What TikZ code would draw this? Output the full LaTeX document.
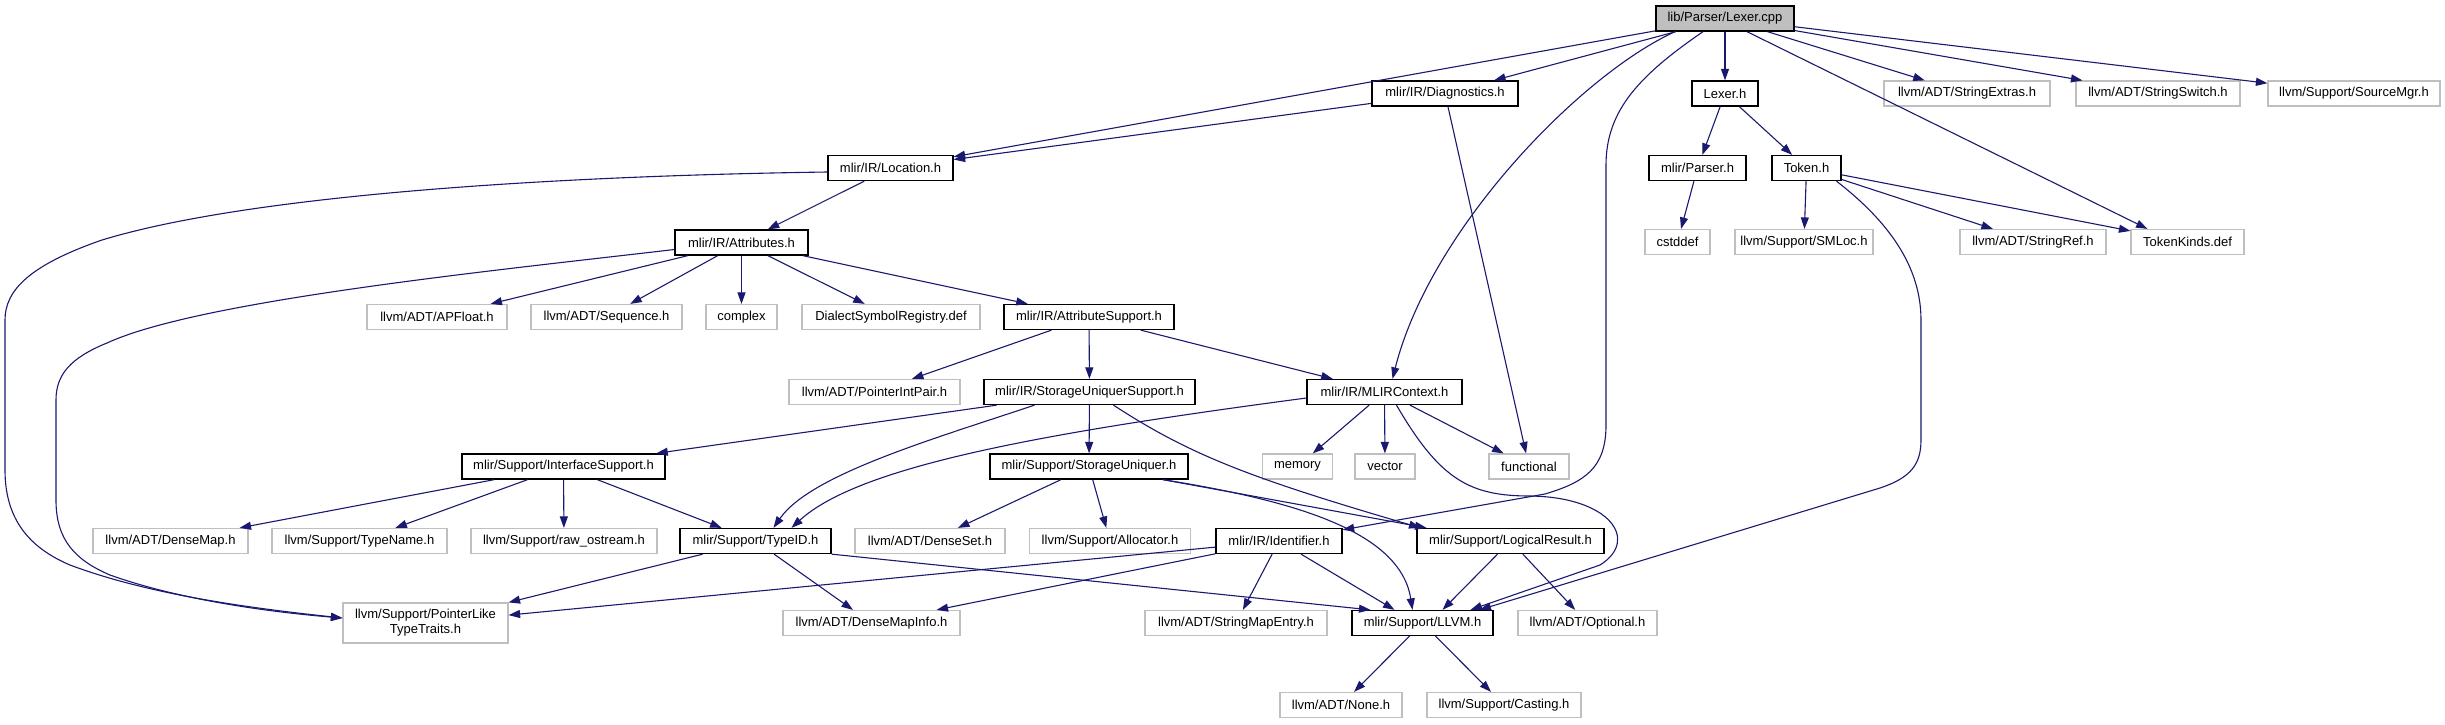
\documentclass[tikz,border=0pt]{standalone}
\usepackage{fontspec}
\setmainfont{Liberation Sans}
\usetikzlibrary{arrows.meta}
\definecolor{edgeblue}{HTML}{191970}
\definecolor{extgray}{HTML}{BFBFBF}
\begin{document}
\begin{tikzpicture}[x=1pt,y=-1pt,
  box/.style={rectangle,inner sep=0pt,minimum height=25pt,font=\fontsize{13}{15}\selectfont,align=center},
  doc/.style={box,draw=black,line width=1.3pt,fill=white},
  ext/.style={box,draw=extgray,line width=1.2pt,fill=white},
  root/.style={box,draw=black,line width=1.3pt,fill=extgray},
  e/.style={draw=edgeblue,line width=1.1pt,-{Triangle[length=11.5pt,width=8pt]}}]
\useasboundingbox (0,0) rectangle (2445,724);
% row 0
\node[root,minimum width=138pt] (cpp) at (1725,18.5) {lib/Parser/Lexer.cpp};
% row 1
\node[doc,minimum width=146pt] (diag) at (1445,93.5) {mlir/IR/Diagnostics.h};
\node[doc,minimum width=66pt] (lexerh) at (1725,93.5) {Lexer.h};
\node[ext,minimum width=166pt] (strext) at (1967,93.5) {llvm/ADT/StringExtras.h};
\node[ext,minimum width=164pt] (strsw) at (2158,93.5) {llvm/ADT/StringSwitch.h};
\node[ext,minimum width=172pt] (srcmgr) at (2354,93.5) {llvm/Support/SourceMgr.h};
% row 2
\node[doc,minimum width=125pt] (loc) at (890.5,168) {mlir/IR/Location.h};
\node[doc,minimum width=97pt] (parser) at (1697.5,168) {mlir/Parser.h};
\node[doc,minimum width=69pt] (token) at (1806.5,168) {Token.h};
% row 3
\node[doc,minimum width=133pt] (attrs) at (741.5,242.5) {mlir/IR/Attributes.h};
\node[ext,minimum width=65pt] (cstddef) at (1677.5,242) {cstddef};
\node[ext,minimum width=138pt] (smloc) at (1804,242) {llvm/Support/SMLoc.h};
\node[ext,minimum width=146pt] (strref) at (2033,242) {llvm/ADT/StringRef.h};
\node[ext,minimum width=113pt] (tokkinds) at (2187.5,242) {TokenKinds.def};
% row 4
\node[ext,minimum width=140pt] (apfloat) at (437,317) {llvm/ADT/APFloat.h};
\node[ext,minimum width=151pt] (seq) at (606.5,317) {llvm/ADT/Sequence.h};
\node[ext,minimum width=71pt] (complex) at (741.5,317) {complex};
\node[ext,minimum width=178pt] (dialreg) at (891,317) {DialectSymbolRegistry.def};
\node[doc,minimum width=170pt] (attrsup) at (1089,317) {mlir/IR/AttributeSupport.h};
% row 5
\node[ext,minimum width=171pt] (pip) at (874.5,392) {llvm/ADT/PointerIntPair.h};
\node[doc,minimum width=211pt] (sus) at (1089.5,392) {mlir/IR/StorageUniquerSupport.h};
\node[doc,minimum width=155pt] (ctx) at (1384.5,392) {mlir/IR/MLIRContext.h};
% row 6
\node[doc,minimum width=203pt] (iface) at (563.5,466.5) {mlir/Support/InterfaceSupport.h};
\node[doc,minimum width=198pt] (su) at (1089,466.5) {mlir/Support/StorageUniquer.h};
\node[ext,minimum width=70pt] (memory) at (1297.5,466.5) {memory};
\node[ext,minimum width=60pt] (vector) at (1385,466.5) {vector};
\node[ext,minimum width=80pt] (functional) at (1529,466.5) {functional};
% row 7
\node[ext,minimum width=155pt] (densemap) at (170.5,541) {llvm/ADT/DenseMap.h};
\node[ext,minimum width=175pt] (typename) at (359.5,541) {llvm/Support/TypeName.h};
\node[ext,minimum width=186pt] (rawos) at (564,541) {llvm/Support/raw\_ostream.h};
\node[doc,minimum width=151pt] (typeid) at (755.5,541) {mlir/Support/TypeID.h};
\node[ext,minimum width=150pt] (denseset) at (930,541) {llvm/ADT/DenseSet.h};
\node[ext,minimum width=161pt] (alloc) at (1110,541) {llvm/Support/Allocator.h};
\node[doc,minimum width=126pt] (ident) at (1279,541) {mlir/IR/Identifier.h};
\node[doc,minimum width=187pt] (logres) at (1510.5,541) {mlir/Support/LogicalResult.h};
% row 8
\node[ext,minimum width=165pt,minimum height=40pt] (traits) at (425.5,623) {llvm/Support/PointerLike\\TypeTraits.h};
\node[ext,minimum width=177pt] (dmi) at (871.5,623) {llvm/ADT/DenseMapInfo.h};
\node[ext,minimum width=182pt] (sme) at (1236,623) {llvm/ADT/StringMapEntry.h};
\node[doc,minimum width=141pt] (llvmh) at (1422.5,623) {mlir/Support/LLVM.h};
\node[ext,minimum width=139pt] (optional) at (1587.5,623) {llvm/ADT/Optional.h};
% row 9
\node[ext,minimum width=122pt] (none) at (1341,705) {llvm/ADT/None.h};
\node[ext,minimum width=154pt] (casting) at (1504,705) {llvm/Support/Casting.h};

% edges from Lexer.cpp
\draw[e] (cpp) -- (loc);
\draw[e] (cpp) -- (diag);
\draw[e] ([xshift=-50pt]cpp.south) .. controls (1580,75) and (1430,230) .. ([xshift=8pt]ctx.north);
\draw[e] ([xshift=-22pt]cpp.south) .. controls (1640,75) and (1606,110) .. (1606,165) -- (1606,425) .. controls (1606,468) and (1585,482) .. (1545,494) -- (ident.10);
\draw[e] (cpp) -- (lexerh);
\draw[e] ([xshift=22pt]cpp.south) -- ([xshift=-40pt]tokkinds.north);
\draw[e] (cpp) -- (strext);
\draw[e] (cpp) -- (strsw);
\draw[e] (cpp) -- (srcmgr);
% Diagnostics
\draw[e] (diag) -- (loc);
\draw[e] (diag) -- (functional);
% Lexer.h and below
\draw[e] (lexerh) -- (parser);
\draw[e] (lexerh) -- (token);
\draw[e] (parser) -- (cstddef);
\draw[e] (token) -- (smloc);
\draw[e] (token) -- (strref);
\draw[e] (token) -- (tokkinds);
\draw[e] ([xshift=30pt]token.south) .. controls (1880,215) and (1921,260) .. (1921,320) -- (1921,440) .. controls (1921,465) and (1910,478) .. (1880,488) -- ([xshift=57pt]llvmh.north);
% Location
\draw[e] (loc) -- (attrs);
\draw[e] ([yshift=-4pt]loc.west) .. controls (550,176) and (250,195) .. (102,240) .. controls (30,265) and (5,290) .. (5,320) -- (5,470) .. controls (5,520) and (30,548) .. (70,565) .. controls (150,595) and (250,608) .. ([yshift=5pt]traits.west);
% Attributes
\draw[e] ([yshift=-7pt]attrs.west) .. controls (500,270) and (200,300) .. (107,343) .. controls (70,358) and (56,375) .. (56,400) -- (56,500) .. controls (56,540) and (75,560) .. (110,575) .. controls (180,600) and (270,612) .. ([yshift=5pt]traits.west);
\draw[e] (attrs) -- (apfloat);
\draw[e] (attrs) -- (seq);
\draw[e] (attrs) -- (complex);
\draw[e] (attrs) -- (dialreg);
\draw[e] (attrs) -- (attrsup);
% AttributeSupport
\draw[e] (attrsup) -- (pip);
\draw[e] (attrsup) -- (sus);
\draw[e] (attrsup) -- (ctx);
% StorageUniquerSupport
\draw[e] (sus) -- (iface);
\draw[e] ([xshift=-55pt]sus.south) .. controls (930,440) and (810,475) .. ([xshift=18pt]typeid.north);
\draw[e] (sus) -- (su);
\draw[e] ([xshift=24pt]sus.south) .. controls (1190,455) and (1250,478) .. ([xshift=-90pt]logres.north);
% StorageUniquer
\draw[e] (su) -- (denseset);
\draw[e] (su) -- (alloc);
\draw[e] ([xshift=74pt]su.south) -- ([xshift=-84pt]logres.north);
\draw[e] ([xshift=74pt]su.south) .. controls (1290,500) and (1400,530) .. ([xshift=-10pt]llvmh.north);
% MLIRContext
\draw[e] ([yshift=-6pt]ctx.west) .. controls (1050,432) and (860,465) .. ([xshift=36pt]typeid.north);
\draw[e] (ctx) -- (memory);
\draw[e] (ctx) -- (vector);
\draw[e] (ctx) -- (functional);
\draw[e] ([xshift=12pt]ctx.south) .. controls (1440,480) and (1470,496) .. (1530,496) .. controls (1610,497) and (1640,540) .. (1600,565) -- ([xshift=48pt]llvmh.north);
% InterfaceSupport
\draw[e] (iface) -- (densemap);
\draw[e] (iface) -- (typename);
\draw[e] (iface) -- (rawos);
\draw[e] (iface) -- (typeid);
% TypeID
\draw[e] (typeid) -- (traits);
\draw[e] (typeid) -- (dmi);
\draw[e] (typeid.south east) -- ([xshift=-52pt]llvmh.north);
% Identifier
\draw[e] (ident) -- (traits);
\draw[e] (ident) -- (dmi);
\draw[e] (ident) -- (sme);
\draw[e] (ident) -- ([xshift=-28pt]llvmh.north);
% LogicalResult
\draw[e] (logres) -- ([xshift=20pt]llvmh.north);
\draw[e] (logres) -- (optional);
% LLVM.h
\draw[e] (llvmh) -- (none);
\draw[e] (llvmh) -- (casting);
\end{tikzpicture}
\end{document}
